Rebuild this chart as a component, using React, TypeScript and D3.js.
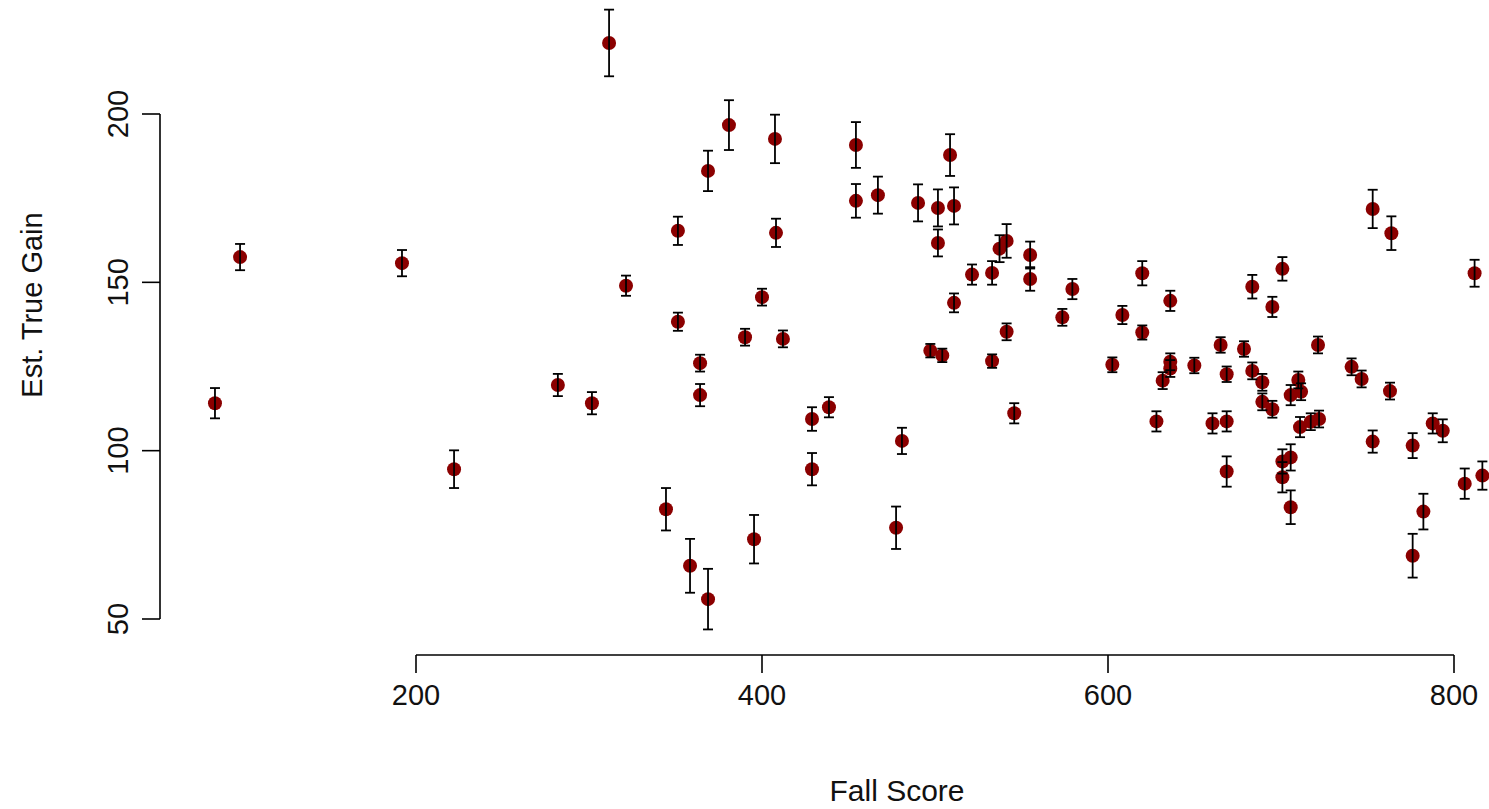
import { useEffect, useRef } from "react";
import * as d3 from "d3";

// Fall score (x), estimated true gain (y) and half-width of the error bar
const fallScore = [
  83.8, 98.3, 191.9, 222, 282, 301.7, 311.6, 321.4, 344.5, 351.4,
  351.4, 358.4, 364.2, 364.2, 368.8, 368.8, 380.9, 390.2, 395.4, 400,
  407.5, 408.1, 412.1, 428.9, 428.9, 438.7, 454.3, 454.3, 467, 477.5,
  480.9, 490.2, 497.3, 501.7, 501.7, 504.2, 508.7, 511, 511, 545.8,
  521.4, 533, 533, 537.3, 541.4, 541.4, 555, 555, 573.6, 579.4,
  602.5, 608.3, 619.8, 619.8, 628, 631.6, 636, 636, 636, 649.9,
  660.4, 665.1, 668.6, 668.6, 668.6, 678.6, 683.4, 683.4, 689.2, 689.2,
  695, 695, 700.8, 700.8, 700.8, 705.6, 705.6, 705.6, 710, 711.6,
  711, 717.2, 722, 721.4, 740.8, 746.6, 753, 753, 763.8, 763,
  776.1, 776.1, 782.3, 787.7, 793.5, 806.2, 811.9, 816.4
];

const trueGain = [
  114.1, 157.5, 155.7, 94.5, 119.5, 114.1, 221.1, 149, 82.6, 165.3,
  138.3, 65.8, 126, 116.5, 183.1, 55.9, 196.7, 133.7, 73.7, 145.6,
  192.6, 164.7, 133.2, 109.4, 94.5, 112.9, 190.8, 174.2, 175.9, 77.1,
  102.9, 173.6, 129.7, 161.7, 172.1, 128.3, 187.8, 172.7, 143.9, 111.1,
  152.3, 152.8, 126.6, 160, 162.3, 135.3, 158.1, 151, 139.6, 148,
  125.5, 140.3, 152.7, 135.1, 108.7, 120.8, 144.5, 126.4, 124.4, 125.3,
  108.1, 131.4, 122.7, 108.7, 93.8, 130.2, 148.7, 123.7, 120.3, 114.5,
  142.7, 112.3, 154, 96.8, 92.1, 116.5, 98, 83.2, 121, 117.5,
  107, 108.6, 109.4, 131.4, 124.9, 121.3, 171.8, 102.7, 164.6, 117.7,
  101.5, 68.8, 81.9, 108.1, 105.9, 90.2, 152.7, 92.6
];

const errHalf = [
  4.5, 3.9, 3.9, 5.6, 3.3, 3.3, 9.9, 3, 6.3, 4.2,
  2.7, 8, 2.5, 3.3, 6, 9, 7.4, 2.5, 7.2, 2.5,
  7.2, 4.2, 2.5, 3.5, 4.8, 3, 6.8, 5, 5.5, 6.3,
  3.9, 5.5, 2, 4, 5.5, 2, 6.2, 5.5, 2.8, 3,
  3, 3.5, 2, 4, 5, 2.5, 4, 3.5, 2.5, 3,
  2.2, 2.7, 3.6, 2.1, 3, 2.5, 3, 2.5, 2.5, 2.3,
  3, 2.3, 2.3, 3, 4.5, 2.3, 3.5, 2.5, 2.5, 2.5,
  3, 2.5, 3.5, 3.6, 4.5, 3, 3.9, 5, 2.5, 2.5,
  3, 2.5, 2.5, 2.5, 2.5, 2.5, 5.7, 3.3, 5, 2.5,
  3.7, 6.5, 5.3, 3, 3.4, 4.5, 4, 4.2
];

const xTicks = [200, 400, 600, 800];
const yTicks = [50, 100, 150, 200];

const WIDTH = 1489;
const HEIGHT = 809;
const FONT = "'Liberation Sans', Arial, sans-serif";

const App = () => {
  const svgRef = useRef<SVGSVGElement>(null);

  useEffect(() => {
    document.body.style.margin = "0";
    if (!svgRef.current) return;
    const svg = d3.select(svgRef.current);
    svg.selectAll("*").remove();

    const xScale = d3.scaleLinear().domain([200, 800]).range([416, 1454]);
    const yScale = d3.scaleLinear().domain([50, 200]).range([619, 114]);

    const axisY = 655;
    const axisX = 160;
    const tickLen = 18;

    const data = fallScore.map((x, i) => ({ x, y: trueGain[i], e: errHalf[i] }));

    // Pontos
    svg.append("g")
      .selectAll("circle")
      .data(data)
      .enter()
      .append("circle")
      .attr("cx", (d) => xScale(d.x))
      .attr("cy", (d) => yScale(d.y))
      .attr("r", 7)
      .attr("fill", "#8b0000");

    // Barras de erro
    const bars = svg.append("g")
      .attr("stroke", "#000")
      .attr("stroke-width", 1.8)
      .attr("fill", "none");

    data.forEach((d) => {
      const cx = xScale(d.x);
      const y1 = yScale(d.y + d.e);
      const y2 = yScale(d.y - d.e);
      bars.append("line").attr("x1", cx).attr("x2", cx).attr("y1", y1).attr("y2", y2);
      bars.append("line").attr("x1", cx - 5).attr("x2", cx + 5).attr("y1", y1).attr("y2", y1);
      bars.append("line").attr("x1", cx - 5).attr("x2", cx + 5).attr("y1", y2).attr("y2", y2);
    });

    // Eixo X
    const gx = svg.append("g").attr("stroke", "#000").attr("stroke-width", 1.6);
    gx.append("line")
      .attr("x1", xScale(xTicks[0]))
      .attr("x2", xScale(xTicks[xTicks.length - 1]))
      .attr("y1", axisY)
      .attr("y2", axisY);
    xTicks.forEach((t) => {
      gx.append("line")
        .attr("x1", xScale(t)).attr("x2", xScale(t))
        .attr("y1", axisY).attr("y2", axisY + tickLen);
    });
    svg.append("g")
      .selectAll("text")
      .data(xTicks)
      .enter()
      .append("text")
      .attr("x", (d) => xScale(d))
      .attr("y", 705)
      .attr("text-anchor", "middle")
      .style("font-family", FONT)
      .style("font-size", "29px")
      .attr("fill", "#111")
      .text((d) => d);

    svg.append("text")
      .attr("x", 897)
      .attr("y", 801)
      .attr("text-anchor", "middle")
      .style("font-family", FONT)
      .style("font-size", "30px")
      .attr("fill", "#111")
      .text("Fall Score");

    // Eixo Y
    const gy = svg.append("g").attr("stroke", "#000").attr("stroke-width", 1.6);
    gy.append("line")
      .attr("x1", axisX).attr("x2", axisX)
      .attr("y1", yScale(yTicks[0]))
      .attr("y2", yScale(yTicks[yTicks.length - 1]));
    yTicks.forEach((t) => {
      gy.append("line")
        .attr("x1", axisX - tickLen).attr("x2", axisX)
        .attr("y1", yScale(t)).attr("y2", yScale(t));
    });
    svg.append("g")
      .selectAll("text")
      .data(yTicks)
      .enter()
      .append("text")
      .attr("transform", (d) => `translate(128,${yScale(d)}) rotate(-90)`)
      .attr("text-anchor", "middle")
      .style("font-family", FONT)
      .style("font-size", "29px")
      .attr("fill", "#111")
      .text((d) => d);

    svg.append("text")
      .attr("transform", "translate(42,305) rotate(-90)")
      .attr("text-anchor", "middle")
      .style("font-family", FONT)
      .style("font-size", "29px")
      .attr("fill", "#111")
      .text("Est. True Gain");
  }, []);

  return (
    <svg
      ref={svgRef}
      width={WIDTH}
      height={HEIGHT}
      style={{ display: "block", background: "#fff" }}
    />
  );
};

export default App;
